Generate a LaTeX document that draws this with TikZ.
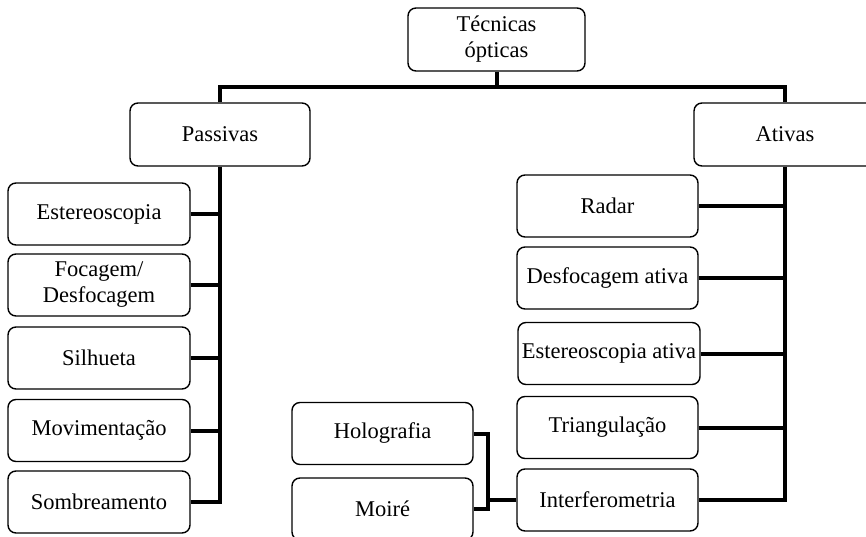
\documentclass[tikz,border=0pt]{standalone}
\usepackage{fontspec}
\setmainfont{Liberation Serif}
\begin{document}
\begin{tikzpicture}[x=1pt,y=-1pt,
  box/.style={draw, rounded corners=8pt, line width=1.4pt, align=center, inner sep=0pt,
    minimum width=#1, minimum height=62pt, font=\fontsize{22.5}{26}\selectfont},
  box/.default=181pt,
  conn/.style={line width=4pt, line join=miter}]
\useasboundingbox (0,0) rectangle (866,537);
\clip (0,0) rectangle (866,537);
% top
\node[box=177pt, minimum height=63pt] (top) at (496.5,39.5) {Técnicas\\ópticas};
\node[box=180pt, minimum height=63pt] (pas) at (220,134.5) {Passivas};
\node[box=182pt, minimum height=63pt] (act) at (785,134.5) {Ativas};
% left column
\node[box=182pt] (est) at (99,214) {Estereoscopia};
\node[box=182pt] (foc) at (99,285) {Focagem/\\Desfocagem};
\node[box=182pt] (sil) at (99,358) {Silhueta};
\node[box=182pt] (mov) at (99,430.5) {Movimentação};
\node[box=182pt] (som) at (99,502) {Sombreamento};
% right column
\node[box] (rad) at (607.5,206) {Radar};
\node[box] (desf) at (607.5,278) {Desfocagem ativa};
\node[box=182pt] (esta) at (609,353.5) {Estereoscopia ativa};
\node[box] (tri) at (607.5,427.5) {Triangulação};
\node[box] (int) at (607.5,500) {Interferometria};
% bottom middle
\node[box] (holo) at (382.5,433.5) {Holografia};
\node[box] (moi) at (382.5,509) {Moiré};
% coordinates
\coordinate (hj) at (496.5,87);
\coordinate (j) at (488,500);
% connectors
\draw[conn] (top.south) -- (top.south |- hj);
\draw[conn] (pas.north) -- (pas.north |- hj) -- (act.north |- hj) -- (act.north);
\draw[conn] (pas.south) -- (pas.south |- som.east) -- (som.east);
\foreach \n in {est,foc,sil,mov} \draw[conn] (\n.east) -- (\n.east -| pas.south);
\draw[conn] (act.south) -- (act.south |- int.east) -- (int.east);
\foreach \n in {rad,desf,esta,tri} \draw[conn] (\n.east) -- (\n.east -| act.south);
\draw[conn] (holo.east) -- (holo.east -| j) -- (j |- moi.east) -- (moi.east);
\draw[conn] (int.west) -- (j);
\end{tikzpicture}
\end{document}
